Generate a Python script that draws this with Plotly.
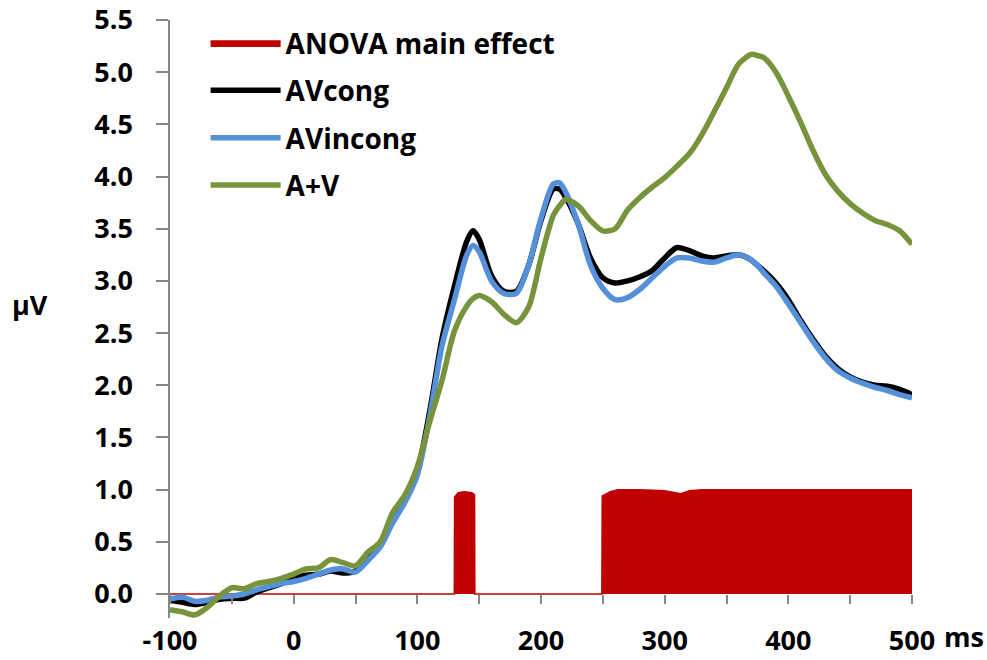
import plotly.graph_objects as go

# ---------------- data ----------------
time_ms = [-100, -90, -80, -70, -60, -50, -40, -30, -20, -10, 0, 10, 20, 30, 40, 50,
           60, 70, 80, 90, 100, 110, 120, 130, 140, 145, 150, 160, 170, 180, 190,
           200, 210, 215, 220, 230, 240, 250, 260, 270, 280, 290, 300, 310, 320,
           330, 340, 350, 360, 370, 375, 380, 390, 400, 410, 420, 430, 440, 450,
           460, 470, 480, 490, 500]

av_cong = [-0.06, -0.08, -0.10, -0.08, -0.05, -0.04, -0.04, 0.02, 0.06, 0.10, 0.15, 0.18,
           0.19, 0.22, 0.20, 0.22, 0.34, 0.48, 0.72, 0.92, 1.18, 1.75, 2.45, 2.95, 3.38,
           3.48, 3.40, 3.05, 2.90, 2.90, 3.15, 3.58, 3.88, 3.88, 3.80, 3.55, 3.22, 3.03,
           2.98, 3.00, 3.04, 3.10, 3.22, 3.32, 3.29, 3.24, 3.22, 3.24, 3.25, 3.20, 3.15,
           3.10, 2.98, 2.82, 2.62, 2.44, 2.28, 2.16, 2.08, 2.03, 2.00, 1.99, 1.96, 1.91]

av_incong = [-0.05, -0.03, -0.07, -0.06, -0.03, -0.02, 0.00, 0.04, 0.07, 0.10, 0.12, 0.15,
             0.19, 0.23, 0.24, 0.21, 0.32, 0.45, 0.68, 0.88, 1.14, 1.70, 2.38, 2.82, 3.25,
             3.34, 3.28, 3.00, 2.88, 2.88, 3.15, 3.60, 3.93, 3.94, 3.85, 3.55, 3.15, 2.93,
             2.82, 2.84, 2.92, 3.03, 3.14, 3.22, 3.22, 3.19, 3.18, 3.22, 3.25, 3.20, 3.15,
             3.08, 2.95, 2.78, 2.60, 2.42, 2.26, 2.14, 2.07, 2.02, 1.98, 1.95, 1.91, 1.88]

a_plus_v = [-0.15, -0.17, -0.20, -0.13, -0.02, 0.06, 0.05, 0.10, 0.12, 0.15, 0.19, 0.24,
            0.25, 0.33, 0.30, 0.27, 0.40, 0.50, 0.78, 0.95, 1.22, 1.65, 2.05, 2.52, 2.76,
            2.83, 2.86, 2.80, 2.68, 2.60, 2.75, 3.22, 3.63, 3.72, 3.78, 3.72, 3.58, 3.48,
            3.50, 3.68, 3.80, 3.90, 3.99, 4.10, 4.22, 4.40, 4.62, 4.85, 5.08, 5.17, 5.16,
            5.14, 5.00, 4.77, 4.52, 4.25, 4.02, 3.86, 3.74, 3.65, 3.58, 3.54, 3.48, 3.35]

anova_ms = [-100, 129.9, 130.1, 133, 138, 144, 146.3, 146.5, 249.2, 249.5, 256, 262, 280,
            300, 313, 320, 330, 500]
anova_val = [0, 0, 0.93, 0.97, 0.98, 0.97, 0.95, 0, 0, 0.94, 0.98, 1.0, 1.0,
             0.99, 0.96, 0.99, 1.0, 1.0]

x_tickvals = [-100, -50, 0, 50, 100, 150, 200, 250, 300, 350, 400, 450, 500]
x_ticktext = ["-100", "", "0", "", "100", "", "200", "", "300", "", "400", "", "500"]
y_tickvals = [0.0, 0.5, 1.0, 1.5, 2.0, 2.5, 3.0, 3.5, 4.0, 4.5, 5.0, 5.5]
y_ticktext = ["%.1f" % v for v in y_tickvals]

# ---------------- styles ----------------
RED = "#C00000"
BLACK = "#000000"
BLUE = "#5590DA"
GREEN = "#77933C"
GREY = "#868686"
FONT = dict(family="Open Sans", size=27, color="#000000", weight="bold")
LEGEND_FONT = dict(family="Open Sans", size=28, color="#000000", weight="bold")
Y_MIN, Y_MAX = -0.23, 5.5

fig = go.Figure()
fig.add_trace(go.Scatter(x=anova_ms, y=anova_val, mode="lines", name="ANOVA main effect",
                         line=dict(color=RED, width=1.5), fill="tozeroy", fillcolor=RED,
                         legendgroup="g1"))
fig.add_trace(go.Scatter(x=time_ms, y=av_cong, mode="lines", name="AVcong",
                         line=dict(color=BLACK, width=5.5, shape="spline", smoothing=0.8),
                         legendgroup="g2"))
fig.add_trace(go.Scatter(x=time_ms, y=av_incong, mode="lines", name="AVincong",
                         line=dict(color=BLUE, width=5.5, shape="spline", smoothing=0.8),
                         legendgroup="g3"))
fig.add_trace(go.Scatter(x=time_ms, y=a_plus_v, mode="lines", name="A+V",
                         line=dict(color=GREEN, width=5.5, shape="spline", smoothing=0.8),
                         legendgroup="g4"))

x_pos = (0 - Y_MIN) / (Y_MAX - Y_MIN)

fig.update_layout(
    width=987, height=660,
    margin=dict(l=170, r=75, t=20, b=42, autoexpand=False),
    paper_bgcolor="white", plot_bgcolor="white",
    font=FONT,
    showlegend=True,
    legend=dict(x=0.048, y=1.003, xanchor="left", yanchor="top", bgcolor="rgba(0,0,0,0)",
                font=LEGEND_FONT, traceorder="grouped", tracegroupgap=8, itemwidth=70),
    xaxis=dict(range=[-100, 500], tickvals=x_tickvals, ticktext=x_ticktext,
               anchor="free", position=x_pos, showline=False, zeroline=False,
               showgrid=False, ticks="outside", ticklen=9, tickwidth=1.5, tickcolor=GREY,
               ticklabelstandoff=14, tickfont=FONT, automargin=False),
    yaxis=dict(range=[Y_MIN, Y_MAX], tickvals=y_tickvals, ticktext=y_ticktext,
               showline=True, linecolor=GREY, linewidth=1.5, zeroline=False,
               showgrid=False, ticks="outside", ticklen=12, tickwidth=1.5, tickcolor=GREY,
               ticklabelstandoff=18, tickfont=FONT, automargin=False),
    annotations=[
        dict(text="μV", xref="paper", yref="y", x=-0.189, y=2.77, showarrow=False,
             font=FONT, xanchor="center", yanchor="middle"),
        dict(text="ms", xref="x", yref="y", x=500, y=0, xanchor="left", yanchor="middle",
             xshift=30, yshift=-42, showarrow=False, font=FONT),
    ],
)

fig.write_html("out.html", config={"displayModeBar": False},
               post_script="document.body.style.margin='0';document.body.style.overflow='hidden';")
